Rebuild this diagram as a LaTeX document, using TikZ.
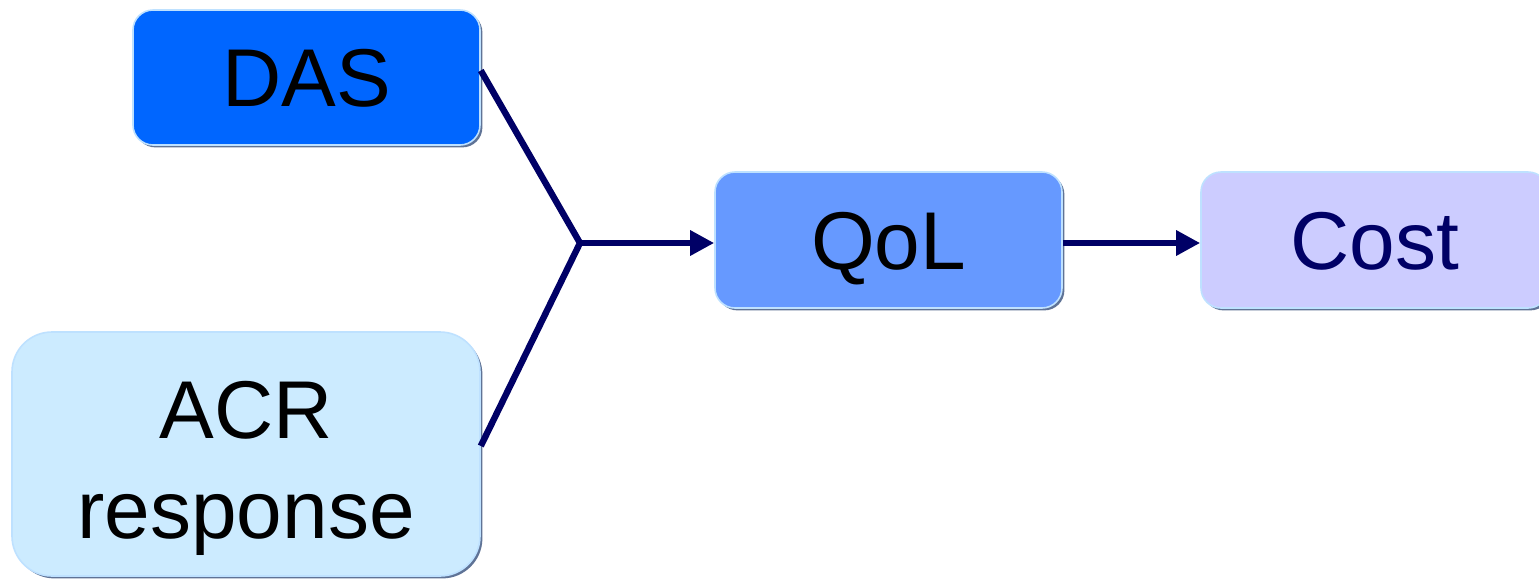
\documentclass[tikz,border=0pt]{standalone}
\usepackage{fontspec}
\setmainfont{Liberation Sans}
\usetikzlibrary{arrows.meta,shadows}
\definecolor{navy}{RGB}{0,0,102}
\definecolor{dasblue}{RGB}{0,102,255}
\definecolor{qolblue}{RGB}{102,153,255}
\definecolor{acrblue}{RGB}{204,235,255}
\definecolor{costlav}{RGB}{204,204,255}
\definecolor{rimlight}{RGB}{190,225,255}
\definecolor{rimdark}{RGB}{95,115,150}
\tikzset{
  box/.style={rounded corners=10pt, draw=rimlight, line width=0.8pt,
    font=\fontsize{41}{50}\selectfont, align=center, inner sep=0pt,
    text height=29.4pt, text depth=0pt,
    drop shadow={shadow xshift=1.2pt, shadow yshift=-1.2pt, fill=rimdark, opacity=1}},
  link/.style={draw=navy, line width=3.2pt},
  flow/.style={link, -{Triangle[length=12pt,width=12pt]}}
}
\begin{document}
\begin{tikzpicture}[x=0.5pt, y=-0.5pt]
  \useasboundingbox[clip] (0,0) rectangle (1539,579);
  \fill[white] (0,0) rectangle (1539,579);
  % boxes
  \node[box, fill=dasblue, minimum width=173.5pt, minimum height=67.5pt] (DAS) at (306.5,77.5) {DAS};
  \node[box, fill=acrblue, rounded corners=20pt, text height=84pt, minimum width=234pt, minimum height=122pt] (ACR) at (246,454) {ACR\\response};
  \node[box, fill=qolblue, minimum width=173.5pt, minimum height=68pt] (QoL) at (888.5,240) {QoL};
  \node[box, fill=costlav, text=navy, minimum width=173.5pt, minimum height=68pt] (Cost) at (1374.5,240) {Cost};
  % connectors
  \coordinate (J) at (580,243);
  \draw[link, line join=miter] ([yshift=3.5pt]DAS.east) -- (J) -- ([yshift=4pt]ACR.east);
  \draw[flow] (J) -- (J -| QoL.west);
  \draw[flow] (QoL.east |- J) -- (J -| Cost.west);
\end{tikzpicture}
\end{document}
